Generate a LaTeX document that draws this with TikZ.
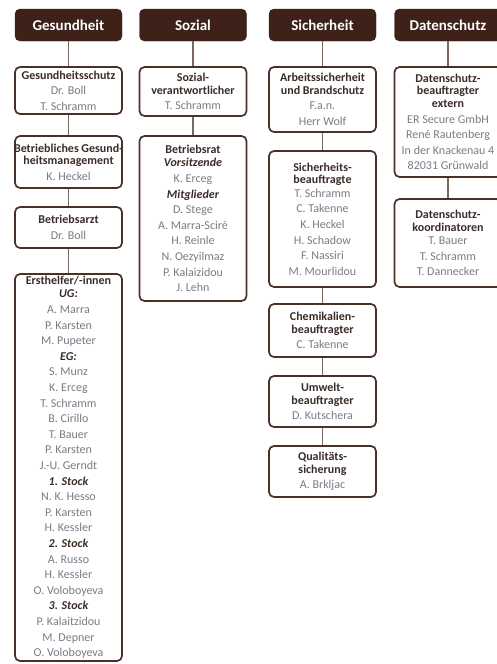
\documentclass[tikz,border=0pt]{standalone}
\usepackage{fontspec}
\setmainfont{Carlito}
\definecolor{hdrfill}{HTML}{3E2118}
\definecolor{boxline}{HTML}{4B3028}
\definecolor{ttlc}{HTML}{3A2C28}
\definecolor{namec}{HTML}{7E7A86}
\definecolor{linec}{HTML}{7A675D}
\newcommand{\ttl}[1]{\makebox[100pt]{\fontsize{12}{15.6}\selectfont\bfseries\color{ttlc}#1}}
\newcommand{\itl}[1]{\makebox[100pt]{\fontsize{12}{15.6}\selectfont\bfseries\itshape\color{ttlc}#1}}
\begin{document}
\begin{tikzpicture}[x=1pt,y=-1pt,
  hdr/.style={fill=hdrfill,draw=hdrfill,rounded corners=5pt,minimum width=107pt,minimum height=32pt,
    inner sep=0pt,text=white,font=\fontsize{15}{17}\selectfont\bfseries},
  obox/.style={draw=boxline,line width=1.7pt,rounded corners=5pt,minimum width=107pt,
    inner sep=0pt,align=center,text=namec,font=\fontsize{12}{15.6}\selectfont},
  conn/.style={draw=linec,line width=1.1pt}]
\useasboundingbox (0,0) rectangle (497,664);
\clip (0,0) rectangle (497,664);
\fill[white] (0,0) rectangle (497,664);
% headers
\node[hdr] (h1) at (68.5,25) {Gesundheit};
\node[hdr] (h2) at (193,25) {Sozial};
\node[hdr] (h3) at (322.5,25) {Sicherheit};
\node[hdr] (h4) at (448,25) {Datenschutz};
% column 1
\node[obox,minimum height=47pt] (g1) at (68.5,90.5) {\ttl{Gesundheitsschutz}\\Dr. Boll\\T. Schramm};
\node[obox,minimum height=52pt] (g2) at (68.5,162) {\ttl{Betriebliches Gesund-}\\[-3pt]\ttl{heitsmanagement}\\K. Heckel};
\node[obox,minimum height=41pt] (g3) at (68.5,227.5) {\ttl{Betriebsarzt}\\Dr. Boll};
\node[obox,minimum height=387pt] (g4) at (68.5,467.5) {\ttl{Ersthelfer/-innen}\\[-2.5pt]\itl{UG:}\\A. Marra\\P. Karsten\\M. Pupeter\\\itl{EG:}\\S. Munz\\K. Erceg\\T. Schramm\\B. Cirillo\\T. Bauer\\P. Karsten\\J.-U. Gerndt\\\itl{1. Stock}\\N. K. Hesso\\P. Karsten\\H. Kessler\\\itl{2. Stock}\\A. Russo\\H. Kessler\\O. Voloboyeva\\\itl{3. Stock}\\P. Kalaitzidou\\M. Depner\\O. Voloboyeva};
% column 2
\node[obox,minimum height=49pt] (s1) at (193,91.5) {\ttl{Sozial-}\\[-3pt]\ttl{verantwortlicher}\\T. Schramm};
\node[obox,minimum height=165pt] (s2) at (193,218.5) {\ttl{Betriebsrat}\\[-2.5pt]\itl{Vorsitzende}\\K. Erceg\\\itl{Mitglieder}\\D. Stege\\A. Marra-Sciré\\H. Reinle\\N. Oezyilmaz\\P. Kalaizidou\\J. Lehn};
% column 3
\node[obox,minimum height=65pt] (c1) at (322.5,99.5) {\ttl{Arbeitssicherheit}\\[-3pt]\ttl{und Brandschutz}\\F.a.n.\\Herr Wolf};
\node[obox,minimum height=136pt] (c2) at (322.5,219) {\ttl{Sicherheits-}\\[-3pt]\ttl{beauftragte}\\[-2pt]T. Schramm\\C. Takenne\\K. Heckel\\H. Schadow\\F. Nassiri\\M. Mourlidou};
\node[obox,minimum height=53pt] (c3) at (322.5,330.5) {\ttl{Chemikalien-}\\[-3pt]\ttl{beauftragter}\\C. Takenne};
\node[obox,minimum height=51pt] (c4) at (322.5,401.5) {\ttl{Umwelt-}\\[-3pt]\ttl{beauftragter}\\D. Kutschera};
\node[obox,minimum height=51pt] (c5) at (322.5,471.5) {\ttl{Qualitäts-}\\[-3pt]\ttl{sicherung}\\A. Brkljac};
% column 4
\node[obox,minimum height=110pt] (d1) at (448,122) {\ttl{Datenschutz-}\\[-3pt]\ttl{beauftragter}\\[-3pt]\ttl{extern}\\ER Secure GmbH\\René Rautenberg\\In der Knackenau 4\\82031 Grünwald};
\node[obox,minimum height=88pt] (d2) at (448,243) {\ttl{Datenschutz-}\\[-3pt]\ttl{koordinatoren}\\[-2pt]T. Bauer\\T. Schramm\\T. Dannecker};
% connectors
\draw[conn] (h1) -- (g1); \draw[conn] (g1) -- (g2); \draw[conn] (g2) -- (g3); \draw[conn] (g3) -- (g4);
\draw[conn] (h2) -- (s1); \draw[conn] (s1) -- (s2);
\draw[conn] (h3) -- (c1); \draw[conn] (c1) -- (c2); \draw[conn] (c2) -- (c3); \draw[conn] (c3) -- (c4); \draw[conn] (c4) -- (c5);
\draw[conn] (h4) -- (d1); \draw[conn] (d1) -- (d2);
\end{tikzpicture}
\end{document}
